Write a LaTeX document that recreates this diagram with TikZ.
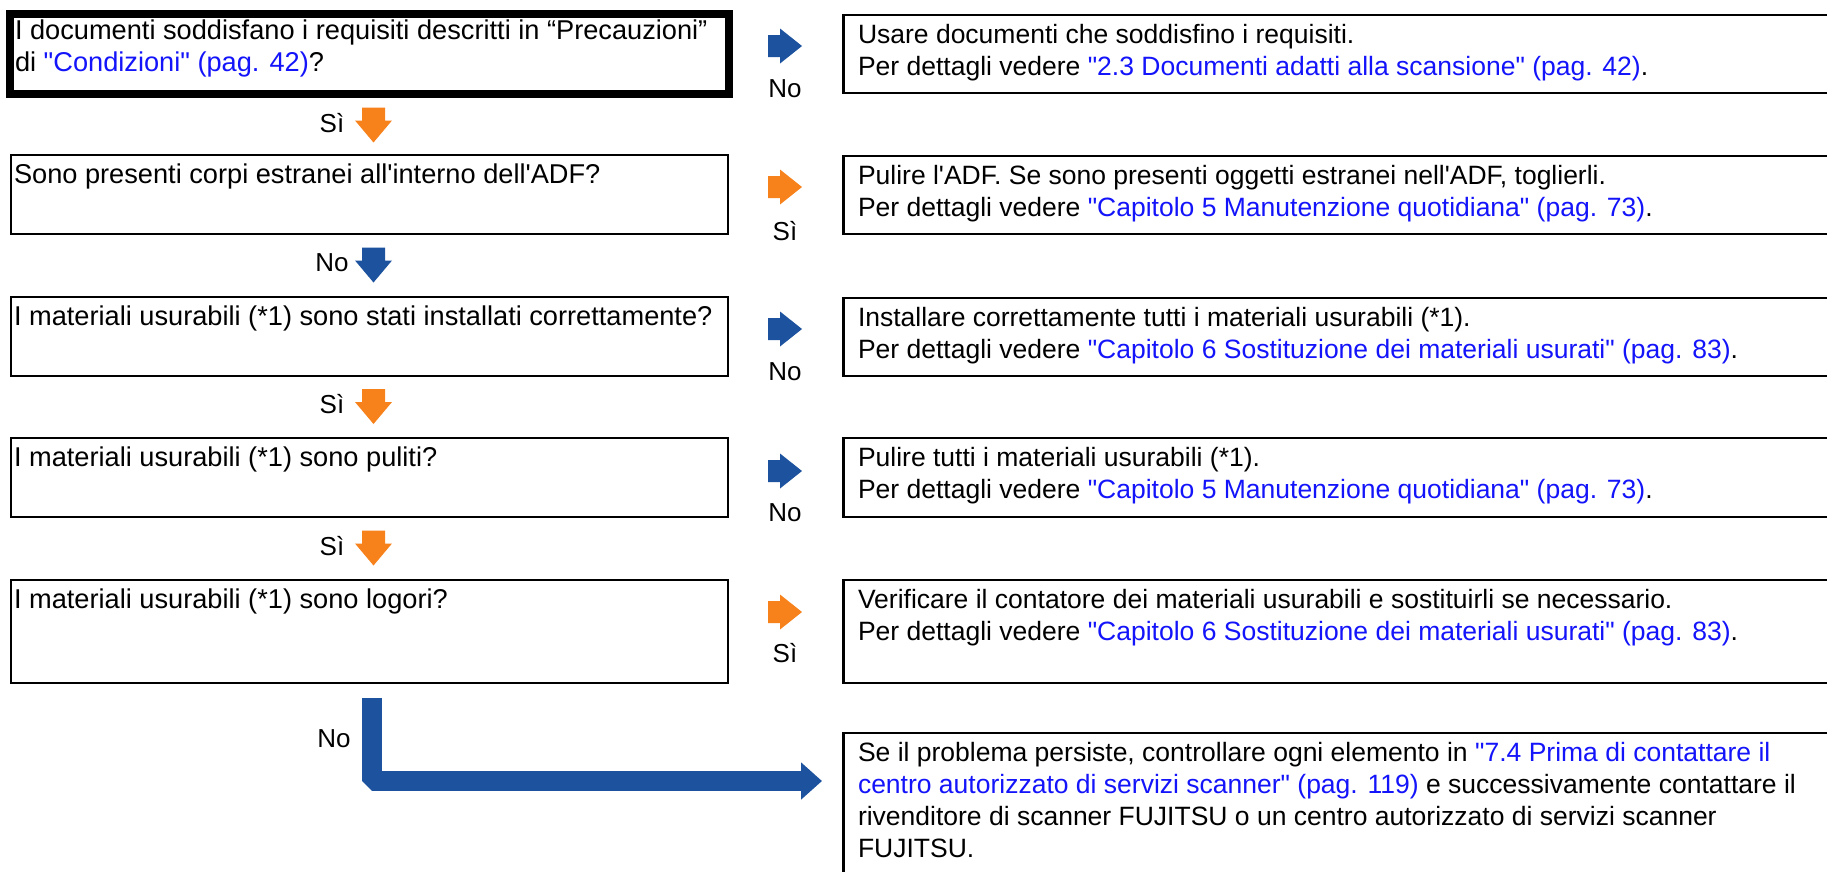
\documentclass[tikz,border=0pt]{standalone}
\usepackage{fontspec}
\setmainfont{Liberation Sans}[Ligatures=TeXOff]
\usetikzlibrary{arrows.meta}
\definecolor{linkblue}{RGB}{20,20,250}
\definecolor{arrowblue}{RGB}{28,82,158}
\definecolor{arroworange}{RGB}{247,130,28}
\newcommand{\lnk}[1]{\textcolor{linkblue}{#1}}
\begin{document}
\begin{tikzpicture}[x=1pt,y=-1pt,
  font=\fontsize{26}{32}\selectfont,
  boxbase/.style={draw=black, inner sep=0, outer sep=0, anchor=north west},
  thinbox/.style={boxbase, line width=2.6pt},
  thickbox/.style={boxbase, line width=8pt},
  txt/.style={anchor=base west, inner sep=0, outer sep=0},
  ltxt/.style={txt, font=\fontsize{27.2}{32}\selectfont},
  rtxt/.style={txt, font=\fontsize{26.5}{32}\selectfont},
  lbl/.style={inner sep=0, outer sep=0, anchor=center},
  lshaft/.style={draw=arrowblue, line width=20pt, line join=bevel, -{Triangle[length=21pt,width=36pt]}},
  pics/rblock/.style={code={\fill[#1] (-17,-11) -- (-5,-11) -- (-5,-17.5) -- (17,0) -- (-5,17.5) -- (-5,11) -- (-17,11) -- cycle;}},
  pics/dblock/.style={code={\fill[#1] (-11.5,-17.5) -- (11.5,-17.5) -- (11.5,-4.5) -- (18.5,-4.5) -- (0,17.5) -- (-18.5,-4.5) -- (-11.5,-4.5) -- cycle;}}
]
\clip (0,0) rectangle (1827,871);
\fill[white] (0,0) rectangle (1827,871);

% left question boxes
\node[thickbox, minimum width=719, minimum height=80] (b1) at (10,14) {};
\node[thinbox, minimum width=717, minimum height=79] (b2) at (11,155) {};
\node[thinbox, minimum width=717, minimum height=79] (b3) at (11,297) {};
\node[thinbox, minimum width=717, minimum height=79] (b4) at (11,438) {};
\node[thinbox, minimum width=717, minimum height=103] (b5) at (11,580) {};

% right answer boxes
\node[thinbox, minimum width=1000, minimum height=78] (r1) at (843.5,15) {};
\node[thinbox, minimum width=1000, minimum height=78] (r2) at (843.5,156) {};
\node[thinbox, minimum width=1000, minimum height=78] (r3) at (843.5,298) {};
\node[thinbox, minimum width=1000, minimum height=79] (r4) at (843.5,438) {};
\node[thinbox, minimum width=1000, minimum height=103] (r5) at (843.5,580) {};
\node[thinbox, minimum width=1000, minimum height=200] (r6) at (843.5,733) {};

% texts
\node[ltxt] (tb1) at (15,39) {\parbox[t]{1000pt}{I documenti soddisfano i requisiti descritti in “Precauzioni”\\di \lnk{"Condizioni" (pag. 42)}?}};
\node[ltxt] (tb2) at (14,183) {\parbox[t]{1000pt}{Sono presenti corpi estranei all'interno dell'ADF?}};
\node[ltxt] (tb3) at (14,325) {\parbox[t]{1000pt}{I materiali usurabili (*1) sono stati installati correttamente?}};
\node[ltxt] (tb4) at (14,466) {\parbox[t]{1000pt}{I materiali usurabili (*1) sono puliti?}};
\node[ltxt] (tb5) at (14,608) {\parbox[t]{1000pt}{I materiali usurabili (*1) sono logori?}};

\node[rtxt] (tr1) at (858,43) {\parbox[t]{1000pt}{Usare documenti che soddisfino i requisiti.\\Per dettagli vedere \lnk{"2.3 Documenti adatti alla scansione" (pag. 42)}.}};
\node[rtxt] (tr2) at (858,184) {\parbox[t]{1000pt}{Pulire l'ADF. Se sono presenti oggetti estranei nell'ADF, toglierli.\\Per dettagli vedere \lnk{"Capitolo 5 Manutenzione quotidiana" (pag. 73)}.}};
\node[rtxt] (tr3) at (858,326) {\parbox[t]{1000pt}{Installare correttamente tutti i materiali usurabili (*1).\\Per dettagli vedere \lnk{"Capitolo 6 Sostituzione dei materiali usurati" (pag. 83)}.}};
\node[rtxt] (tr4) at (858,466) {\parbox[t]{1000pt}{Pulire tutti i materiali usurabili (*1).\\Per dettagli vedere \lnk{"Capitolo 5 Manutenzione quotidiana" (pag. 73)}.}};
\node[rtxt] (tr5) at (858,608) {\parbox[t]{1000pt}{Verificare il contatore dei materiali usurabili e sostituirli se necessario.\\Per dettagli vedere \lnk{"Capitolo 6 Sostituzione dei materiali usurati" (pag. 83)}.}};
\node[rtxt] (tr6) at (858,761) {\parbox[t]{1000pt}{Se il problema persiste, controllare ogni elemento in \lnk{"7.4 Prima di contattare il}\\\lnk{centro autorizzato di servizi scanner" (pag. 119)} e successivamente contattare il\\rivenditore di scanner FUJITSU o un centro autorizzato di servizi scanner\\FUJITSU.}};

% right block arrows with labels
\pic at (785,46) {rblock=arrowblue};
\node[lbl] (n1) at (785,89) {No};
\pic at (785,187) {rblock=arroworange};
\node[lbl] (n2) at (785,231) {Sì};
\pic at (785,329) {rblock=arrowblue};
\node[lbl] (n3) at (785,372) {No};
\pic at (785,471) {rblock=arrowblue};
\node[lbl] (n4) at (785,513) {No};
\pic at (785,612) {rblock=arroworange};
\node[lbl] (n5) at (785,653) {Sì};

% down block arrows with labels
\pic at (373.5,125) {dblock=arroworange};
\node[lbl] (d1) at (332,123) {Sì};
\pic at (373.5,265) {dblock=arrowblue};
\node[lbl] (d2) at (332,263) {No};
\pic at (373.5,406.5) {dblock=arroworange};
\node[lbl] (d3) at (332,404.5) {Sì};
\pic at (373.5,548) {dblock=arroworange};
\node[lbl] (d4) at (332,546) {Sì};

% final bent arrow
\coordinate (ls) at (372,698);
\coordinate (lc) at (372,781);
\coordinate (le) at (822,781);
\draw[lshaft] (ls) -- (lc) -- (le);
\node[lbl] (n6) at (334,739) {No};
\end{tikzpicture}
\end{document}
